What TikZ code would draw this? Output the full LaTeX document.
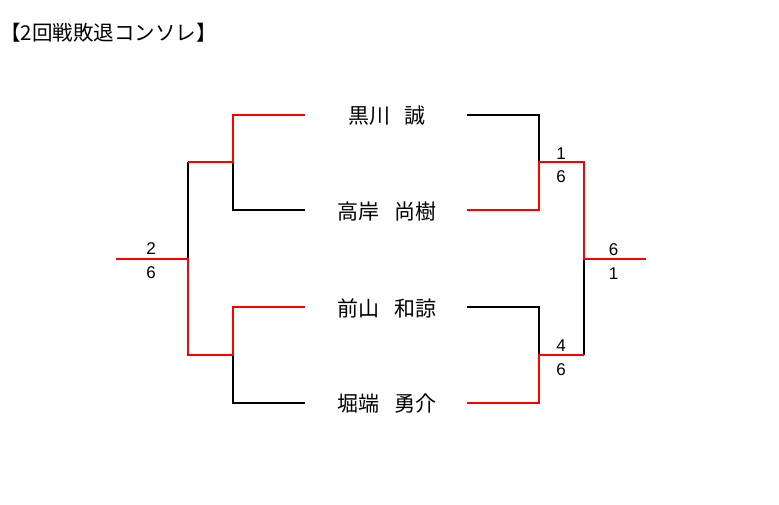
\documentclass[tikz,border=0pt]{standalone}
\usepackage{fontspec}
\setmainfont{Liberation Sans}
\newfontfamily\jp{Noto Sans CJK JP}
\usepackage{tikz}

\begin{document}
\begin{tikzpicture}[x=1pt, y=-1pt,
  win/.style={red, line width=2pt},
  lose/.style={black, line width=2pt},
  player/.style={inner sep=0pt, font=\jp\fontsize{21}{21}\selectfont},
  score/.style={inner sep=0pt, font=\fontsize{17}{17}\selectfont}]
\useasboundingbox (0, 0) rectangle (779, 505);

\node[anchor=west, inner sep=0pt, font=\jp\fontsize{20.5}{20.5}\selectfont] (title) at (0, 32.5) {【2回戦敗退コンソレ】};

\node[player] (p1) at (387, 116) {黒川\hspace{14.5pt}誠};
\node[player] (p2) at (387, 212) {高岸\hspace{14.5pt}尚樹};
\node[player] (p3) at (387, 308) {前山\hspace{14.5pt}和諒};
\node[player] (p4) at (387, 404) {堀端\hspace{14.5pt}勇介};

\coordinate (l1) at (305, 115);
\coordinate (l2) at (305, 210);
\coordinate (l3) at (305, 307);
\coordinate (l4) at (305, 403);
\coordinate (la) at (233, 115);
\coordinate (lb) at (233, 210);
\coordinate (lab) at (233, 162);
\coordinate (lc) at (233, 307);
\coordinate (ld) at (233, 403);
\coordinate (lcd) at (233, 355);
\coordinate (m1) at (188, 162);
\coordinate (m2) at (188, 355);
\coordinate (mm) at (188, 259);
\coordinate (lout) at (116, 259);

\coordinate (r1) at (467, 115);
\coordinate (r2) at (467, 210);
\coordinate (r3) at (467, 307);
\coordinate (r4) at (467, 403);
\coordinate (ra) at (539, 115);
\coordinate (rb) at (539, 210);
\coordinate (rab) at (539, 162);
\coordinate (rc) at (539, 307);
\coordinate (rd) at (539, 403);
\coordinate (rcd) at (539, 355);
\coordinate (n1) at (584, 162);
\coordinate (n2) at (584, 355);
\coordinate (nn) at (584, 259);
\coordinate (rout) at (646, 259);

\draw[lose] (lab) -- (lb) -- (l2);
\draw[lose] (lcd) -- (ld) -- (l4);
\draw[lose] (m1) -- (mm);
\draw[win] (l1) -- (la) -- (lab) -- (m1);
\draw[win] (lout) -- (mm) -- (m2) -- (lcd) -- (lc) -- (l3);

\draw[lose] (r1) -- (ra) -- (rab);
\draw[lose] (r3) -- (rc) -- (rcd);
\draw[lose] (n2) -- (nn);
\draw[win] (r2) -- (rb) -- (rab) -- (n1) -- (nn) -- (rout);
\draw[win] (r4) -- (rd) -- (rcd) -- (n2);

\node[score] (s1) at (151, 248.5) {2};
\node[score] (s2) at (151, 273) {6};
\node[score] (s3) at (561, 153.5) {1};
\node[score] (s4) at (561, 177) {6};
\node[score] (s5) at (561, 346) {4};
\node[score] (s6) at (561, 369.5) {6};
\node[score] (s7) at (613.5, 249.5) {6};
\node[score] (s8) at (613.5, 274) {1};

\end{tikzpicture}
\end{document}
